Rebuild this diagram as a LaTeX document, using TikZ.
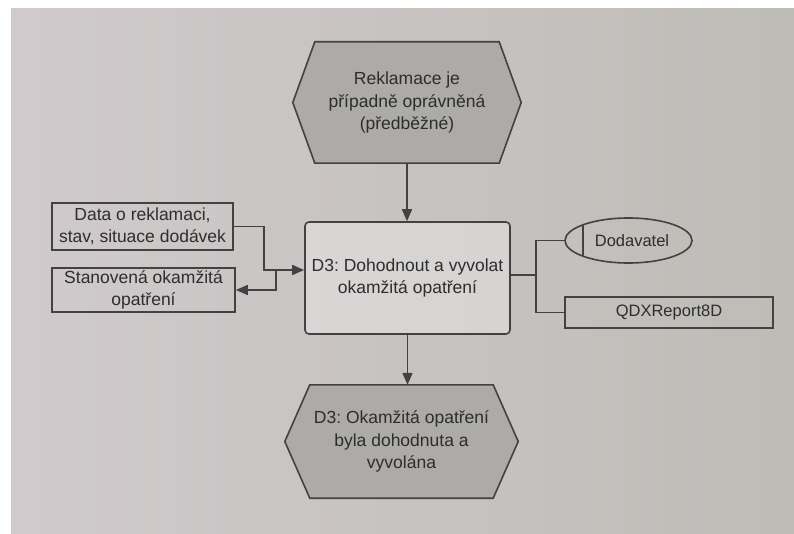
\documentclass[tikz,border=0pt]{standalone}
\usepackage{fontspec}
\setmainfont{Liberation Sans}
\frenchspacing
\usetikzlibrary{arrows.meta,shapes.geometric,calc}
\definecolor{ink}{RGB}{45,45,45}
\definecolor{wire}{RGB}{66,66,66}
\definecolor{eventgray}{RGB}{172,171,168}
\definecolor{pageL}{RGB}{208,202,204}
\definecolor{pageM}{RGB}{230,229,226}
\definecolor{pageR}{RGB}{190,188,183}
\pgfdeclarelayer{paper}
\pgfdeclarelayer{shapes}
\pgfsetlayers{paper,shapes,main}
\tikzset{
  conn/.style={draw=wire, line width=1.6pt},
  arr/.style={conn, -{Triangle[length=12pt,width=10pt]}},
  txt/.style={text=ink, font=\fontsize{17.5}{22.5}\selectfont, align=center, inner sep=0pt},
  event/.style={txt, rectangle, minimum width=#1, minimum height=113pt},
  funcbox/.style={txt, draw=wire, line width=1.6pt, rounded corners=4pt, fill=white, fill opacity=0.3, text opacity=1},
  databox/.style={txt, draw=wire, line width=1.6pt},
  smalltxt/.style={text=ink, font=\fontsize{16.5}{20}\selectfont, inner sep=0pt},
}
\begin{document}
\begin{tikzpicture}[x=1pt,y=-1pt]
\useasboundingbox (0,0) rectangle (794,534);
\begin{pgfonlayer}{paper}
  \fill[white] (0,0) rectangle (794,534);
  \shade[left color=pageL, middle color=pageM, right color=pageR] (11,9) rectangle (794,533);
\end{pgfonlayer}

% events and function
\node[event=228pt, minimum height=121pt] (top) at (407,102.5)
  {Reklamace je\\případně oprávněná\\(předběžné)};
\node[funcbox, minimum width=205pt, minimum height=112pt] (fun) at (407.5,278)
  {D3: Dohodnout a vyvolat\\okamžitá opatření};
\node[event=233pt] (bot) at (401.5,441.5)
  {D3: Okamžitá opatření\\byla dohodnuta a\\vyvolána};

% hexagonal event outlines
\begin{pgfonlayer}{shapes}
\foreach \n/\d in {top/22,bot/25}{
  \filldraw[fill=eventgray, draw=wire, line width=1.6pt, line join=miter]
    (\n.west) -- ($(\n.north west)+(\d,0)$) -- ($(\n.north east)+(-\d,0)$)
    -- (\n.east) -- ($(\n.south east)+(-\d,0)$) -- ($(\n.south west)+(\d,0)$) -- cycle;
}
\end{pgfonlayer}

% information objects
\node[databox, minimum width=181pt, minimum height=47pt] (data) at (142.5,226.5)
  {Data o reklamaci,\\stav, situace dodávek};
\node[databox, minimum width=183pt, minimum height=44pt] (stan) at (143.5,290)
  {Stanovená okamžitá\\opatření};

% organisational unit and system
\node[ellipse, draw=wire, line width=1.6pt, minimum width=127pt, minimum height=45pt, inner sep=0pt,
  path picture={\draw[conn] ([xshift=18pt]path picture bounding box.north west)
                           -- ([xshift=18pt]path picture bounding box.south west);}]
  (dod) at (628.5,240.5) {};
\node[smalltxt] (dodtext) at (632,241) {Dodavatel};
\node[databox, minimum width=208pt, minimum height=31pt, font=\fontsize{16.5}{20}\selectfont] (qdx) at (669,312.5) {QDXReport8D};

% control flow
\draw[arr] (top.south) -- (top.south |- fun.north);
\draw[arr] (fun.south) -- (fun.south |- bot.north);

% data flow
\draw[arr] (data.east) -- ++(30,0) |- ([yshift=8pt]fun.west);
\draw[arr] ([xshift=-28pt,yshift=8pt]fun.west) |- (stan.east);

% assignments
\draw[conn] ([yshift=3pt]fun.east) -- ++(25,0) coordinate (rj);
\draw[conn] (dod.west) -| (rj) |- (qdx.west);
\end{tikzpicture}
\end{document}
